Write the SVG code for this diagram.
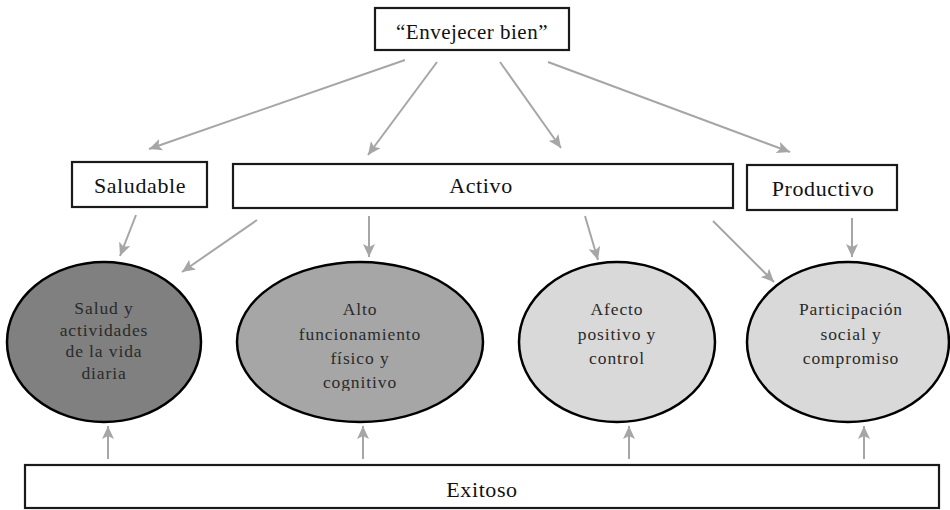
<svg xmlns="http://www.w3.org/2000/svg" width="950" height="510" viewBox="0 0 950 510">
<style>
.box{fill:#fff;stroke:#1a1a1a;stroke-width:2.2}
.ell{stroke:#000;stroke-width:2.5}
.bt{font-size:22px;letter-spacing:0.6px;fill:#111;text-anchor:middle}
.et{font-size:17.5px;letter-spacing:0.9px;fill:#2a2a2a;text-anchor:middle}
.c line{stroke:#a6a6a6;stroke-width:2;marker-end:url(#ah)}
</style>
<defs>
<marker id="ah" markerUnits="userSpaceOnUse" markerWidth="14" markerHeight="12" viewBox="0 0 14 12" refX="13" refY="6" orient="auto">
<path d="M0,0 L13,6 L0,12 L3,6 z" fill="#a6a6a6"/>
</marker>
<clipPath id="cut"><rect x="230" y="260" width="260" height="131"/></clipPath>
</defs>
<g id="connectors" class="c">
<line x1="405" y1="60" x2="149" y2="149"/>
<line x1="437" y1="62" x2="368" y2="155"/>
<line x1="500" y1="62" x2="561" y2="148"/>
<line x1="548" y1="62" x2="790" y2="152"/>
<line x1="136" y1="215" x2="120" y2="256"/>
<line x1="257" y1="220" x2="182" y2="272"/>
<line x1="369" y1="216" x2="369" y2="257"/>
<line x1="585" y1="216" x2="598" y2="260"/>
<line x1="713" y1="221" x2="774" y2="282"/>
<line x1="852" y1="218" x2="852" y2="257"/>
<line x1="108" y1="459" x2="108" y2="426"/>
<line x1="363" y1="459" x2="363" y2="426"/>
<line x1="629" y1="459" x2="629" y2="426"/>
<line x1="864" y1="459" x2="864" y2="426"/>
</g>
<g id="envejecer">
<rect class="box" x="375" y="8" width="194" height="42"/>
<text class="bt" x="472" y="39" style="font-family:'Liberation Serif',serif;font-size:21px;letter-spacing:0.5px">“Envejecer bien”</text>
</g>
<g id="saludable">
<rect class="box" x="72" y="162" width="135" height="45"/>
<text class="bt" x="140" y="193" style="font-family:'Liberation Serif',serif">Saludable</text>
</g>
<g id="activo">
<rect class="box" x="233" y="164" width="500" height="44"/>
<text class="bt" x="481" y="193" style="font-family:'Liberation Serif',serif">Activo</text>
</g>
<g id="productivo">
<rect class="box" x="747" y="165" width="150" height="45"/>
<text class="bt" x="823" y="196" style="font-family:'Liberation Serif',serif">Productivo</text>
</g>
<g id="salud">
<ellipse class="ell" cx="104" cy="342" rx="97" ry="80" fill="#808080"/>
<text class="et" x="104" y="314" style="font-family:'Liberation Serif',serif">Salud y</text>
<text class="et" x="104" y="336" style="font-family:'Liberation Serif',serif">actividades</text>
<text class="et" x="104" y="357" style="font-family:'Liberation Serif',serif">de la vida</text>
<text class="et" x="104" y="379" style="font-family:'Liberation Serif',serif">diaria</text>
</g>
<g id="alto">
<ellipse class="ell" cx="360" cy="342" rx="123" ry="80" fill="#a6a6a6"/>
<text class="et" x="360" y="315" style="font-family:'Liberation Serif',serif">Alto</text>
<text class="et" x="360" y="340" style="font-family:'Liberation Serif',serif">funcionamiento</text>
<text class="et" x="360" y="364" style="font-family:'Liberation Serif',serif">físico y</text>
<text class="et" x="360" y="388" clip-path="url(#cut)" style="font-family:'Liberation Serif',serif">cognitivo</text>
</g>
<g id="afecto">
<ellipse class="ell" cx="617" cy="342" rx="98" ry="80" fill="#d9d9d9"/>
<text class="et" x="617" y="315" style="font-family:'Liberation Serif',serif">Afecto</text>
<text class="et" x="617" y="340" style="font-family:'Liberation Serif',serif">positivo y</text>
<text class="et" x="617" y="364" style="font-family:'Liberation Serif',serif">control</text>
</g>
<g id="participacion">
<ellipse class="ell" cx="848" cy="342" rx="101" ry="80" fill="#d9d9d9"/>
<text class="et" x="851" y="315" style="font-family:'Liberation Serif',serif">Participación</text>
<text class="et" x="851" y="340" style="font-family:'Liberation Serif',serif">social y</text>
<text class="et" x="851" y="364" style="font-family:'Liberation Serif',serif">compromiso</text>
</g>
<g id="exitoso">
<rect class="box" x="25" y="465" width="914" height="43"/>
<text class="bt" x="482" y="497" style="font-family:'Liberation Serif',serif">Exitoso</text>
</g>
</svg>
